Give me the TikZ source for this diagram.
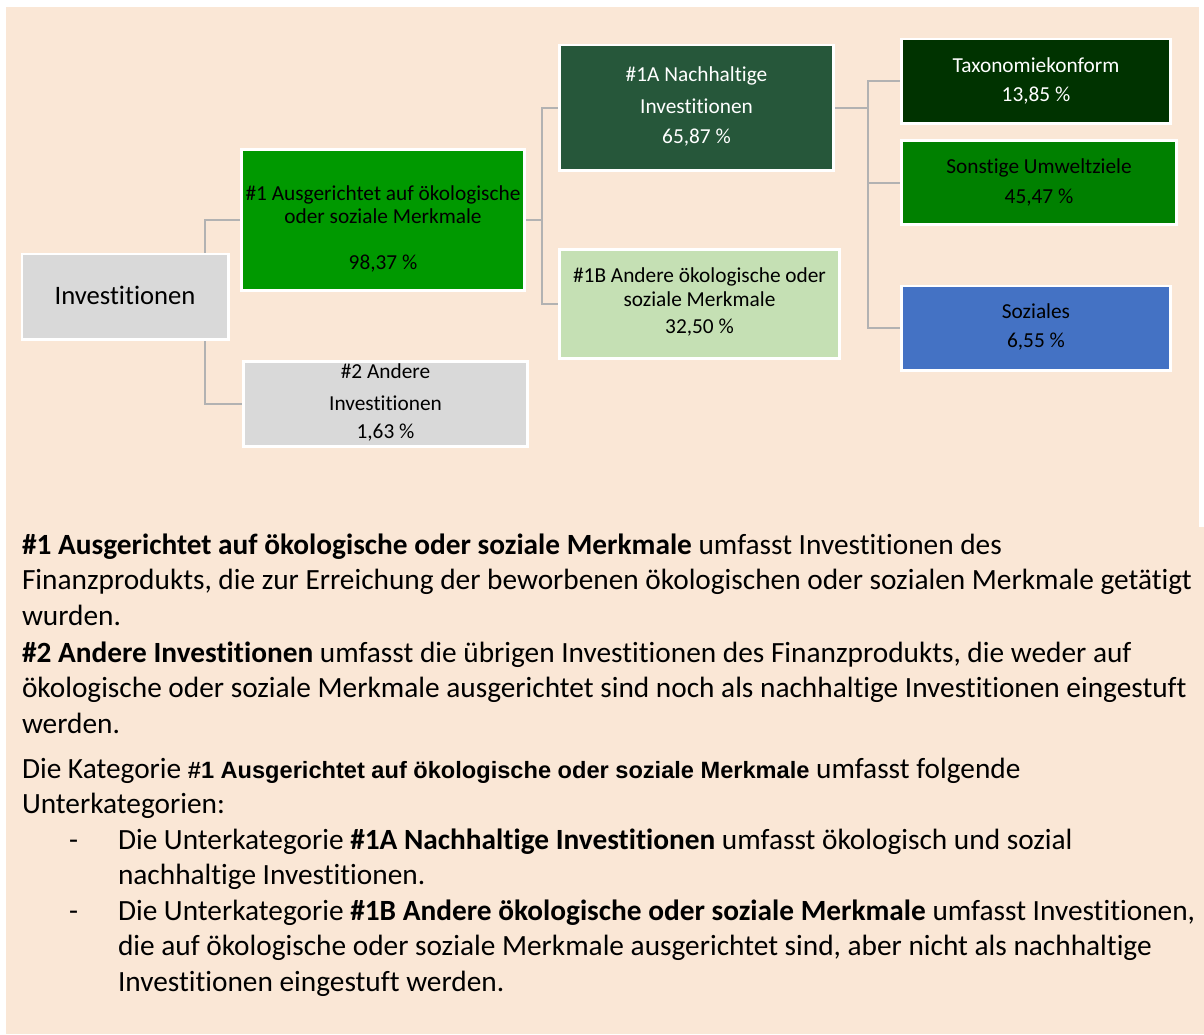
\documentclass[tikz,border=0pt]{standalone}
\usepackage{fontspec}
\setmainfont{Carlito}[Ligatures=NoCommon]
\newfontfamily\arialfont{Liberation Sans}[Ligatures=NoCommon]
\definecolor{peach}{HTML}{FAE7D6}
\definecolor{boxgray}{HTML}{D9D9D9}
\definecolor{greenA}{HTML}{009900}
\definecolor{greenDark}{HTML}{26573A}
\definecolor{greenLight}{HTML}{C5E0B4}
\definecolor{greenDeep}{HTML}{003300}
\definecolor{greenMid}{HTML}{008000}
\definecolor{blueSoc}{HTML}{4472C4}
\definecolor{connGray}{HTML}{B2B2B2}
\pgfdeclarelayer{bg}
\pgfdeclarelayer{conn}
\pgfsetlayers{bg,conn,main}
\begin{document}
\begin{tikzpicture}[x=1pt,y=-1pt,
  box/.style={rectangle, draw=white, line width=2.7pt, inner sep=0pt, outer sep=0pt, text depth=0pt,
    font=\fontsize{21.33}{23}\selectfont},
  conn/.style={draw=connGray, line width=2pt},
  txt/.style={inner sep=0pt, outer sep=0pt, anchor=base west, font=\fontsize{29.33}{35.75}\selectfont},
]
\useasboundingbox (0,0) rectangle (1204,1034);
\begin{pgfonlayer}{bg}
  \fill[white] (0,0) rectangle (1204,1034);
  \fill[peach] (5.7,6.7) rectangle (1199,527.5);
  \fill[peach] (6,527) rectangle (1204,1034);
\end{pgfonlayer}

% boxes
\node[box, fill=boxgray, minimum width=206.3pt, minimum height=85.3pt, text height=15pt,
  font=\fontsize{26.67}{30}\selectfont] (inv) at (125,296.5) {Investitionen};
\node[box, fill=greenA, minimum width=283.3pt, minimum height=141.3pt, text height=98pt] (n1) at (383,220)
  {\begin{tabular}[b]{@{}c@{}}\#1 Ausgerichtet auf ökologische\\oder soziale Merkmale\\[23pt]98,37 \%\end{tabular}};
\node[box, fill=boxgray, minimum width=284.3pt, minimum height=85.3pt, text height=68pt] (n2) at (385.5,404)
  {\begin{tabular}[b]{@{}c@{}}\#2 Andere\\[9pt]Investitionen\\[5pt]1,63 \%\end{tabular}};
\node[box, fill=greenDark, text=white, minimum width=274.3pt, minimum height=125.3pt, text height=71pt] (n1a) at (696.5,107.5)
  {\begin{tabular}[b]{@{}c@{}}\#1A Nachhaltige\\[9pt]Investitionen\\[7pt]65,87 \%\end{tabular}};
\node[box, fill=greenLight, minimum width=280.3pt, minimum height=109.3pt, text height=58pt] (n1b) at (699.5,304)
  {\begin{tabular}[b]{@{}c@{}}\#1B Andere ökologische oder\\[1pt]soziale Merkmale\\[4pt]32,50 \%\end{tabular}};
\node[box, fill=greenDeep, text=white, minimum width=269.3pt, minimum height=84.3pt, text height=40pt] (tax) at (1036,81)
  {\begin{tabular}[b]{@{}c@{}}Taxonomiekonform\\[6pt]13,85 \%\end{tabular}};
\node[box, fill=greenMid, minimum width=275.3pt, minimum height=84.3pt, text height=41pt] (son) at (1039,182.5)
  {\begin{tabular}[b]{@{}c@{}}Sonstige Umweltziele\\[7pt]45,47 \%\end{tabular}};
\node[box, fill=blueSoc, minimum width=269.3pt, minimum height=84.3pt, text height=38pt] (soz) at (1036,328)
  {\begin{tabular}[b]{@{}c@{}}Soziales\\[6pt]6,55 \%\end{tabular}};

% connectors
\coordinate (j0) at ([xshift=80pt]inv.center);
\coordinate (j1) at ([xshift=17pt]n1.east);
\coordinate (j2) at ([xshift=34pt]n1a.east);
\begin{pgfonlayer}{conn}
  \draw[conn] (n1.west) -| (j0) |- (n2.west);
  \draw[conn] (n1.east) -- (j1);
  \draw[conn] (n1a.west) -| (j1) |- (n1b.west);
  \draw[conn] (n1a.east) -- (j2);
  \draw[conn] (tax.west) -| (j2) |- (soz.west);
  \draw[conn] (j2) |- (son.west);
\end{pgfonlayer}

% explanatory text
\node[txt] (p1) at (22,554) {\begin{tabular}[t]{@{}l@{}}\textbf{\#1 Ausgerichtet auf ökologische oder soziale Merkmale} umfasst Investitionen des\\
Finanzprodukts, die zur Erreichung der beworbenen ökologischen oder sozialen Merkmale getätigt\\
wurden.\end{tabular}};
\node[txt] (p2) at (22,662) {\begin{tabular}[t]{@{}l@{}}\textbf{\#2 Andere Investitionen} umfasst die übrigen Investitionen des Finanzprodukts, die weder auf\\
ökologische oder soziale Merkmale ausgerichtet sind noch als nachhaltige Investitionen eingestuft\\
werden.\end{tabular}};
\node[txt] (p3) at (22,778) {\begin{tabular}[t]{@{}l@{}}Die Kategorie {\arialfont\bfseries\fontsize{23.6}{35.75}\selectfont \#1 Ausgerichtet auf ökologische oder soziale Merkmale} umfasst folgende\\
Unterkategorien:\end{tabular}};
\node[txt] (d1) at (69,849) {-};
\node[txt] (b1) at (118,849) {\begin{tabular}[t]{@{}l@{}}Die Unterkategorie \textbf{\#1A Nachhaltige Investitionen} umfasst ökologisch und sozial\\
nachhaltige Investitionen.\end{tabular}};
\node[txt] (d2) at (69,920) {-};
\node[txt] (b2) at (118,920) {\begin{tabular}[t]{@{}l@{}}Die Unterkategorie \textbf{\#1B Andere ökologische oder soziale Merkmale} umfasst Investitionen,\\
die auf ökologische oder soziale Merkmale ausgerichtet sind, aber nicht als nachhaltige\\
Investitionen eingestuft werden.\end{tabular}};
\end{tikzpicture}
\end{document}
